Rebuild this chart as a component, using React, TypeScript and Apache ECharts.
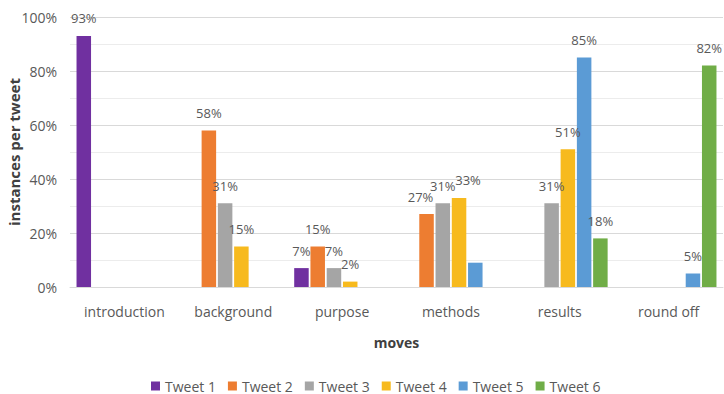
import React, { useEffect, useRef } from "react";
import * as echarts from "echarts";

const categories = ["introduction", "background", "purpose", "methods", "results", "round off"];
const seriesNames = ["Tweet 1", "Tweet 2", "Tweet 3", "Tweet 4", "Tweet 5", "Tweet 6"];
const tweet1 = [93, null, 7, null, null, null];
const tweet2 = [null, 58, 15, 27, null, null];
const tweet3 = [null, 31, 7, 31, 31, null];
const tweet4 = [null, 15, 2, 33, 51, null];
const tweet5 = [null, null, null, 9, 85, 5];
const tweet6 = [null, null, null, null, 18, 82];
const hiddenLabels: Record<string, number[]> = { "Tweet 5": [3] };
const colors = ["#7030A0", "#ED7D31", "#A5A5A5", "#F7BA1E", "#5B9BD5", "#70AD47"];
const yTicks = [0, 20, 40, 60, 80, 100];

// small label nudges (style only), keyed by series then category index
const labelNudges: Record<string, Record<number, number[]>> = {
  "Tweet 2": { 3: [-6, 0] },
  "Tweet 4": { 3: [9, 0] },
};

const FONT = "Open Sans";

export default function App() {
  const ref = useRef<HTMLDivElement>(null);
  useEffect(() => {
    if (!ref.current) return;
    const chart = echarts.init(ref.current, null, { renderer: "svg" });
    const all = [tweet1, tweet2, tweet3, tweet4, tweet5, tweet6];
    const series = all.map((vals, i) => ({
      name: seriesNames[i],
      type: "bar" as const,
      barGap: "12%",
      barCategoryGap: "12%",
      itemStyle: { color: colors[i] },
      label: {
        show: true,
        position: "top" as const,
        distance: 11,
        formatter: "{c}%",
        color: "#595959",
        fontSize: 13,
        fontFamily: FONT,
      },
      data: vals.map((v, j) => {
        const name = seriesNames[i];
        if ((hiddenLabels[name] || []).includes(j)) return { value: v, label: { show: false } };
        const nudge = labelNudges[name] && labelNudges[name][j];
        if (nudge) return { value: v, label: { offset: nudge } };
        return v;
      }),
    }));
    chart.setOption({
      animation: false,
      color: colors,
      grid: { left: 70, right: 1, top: 17, bottom: 107, outerBoundsMode: "none", containLabel: false },
      legend: {
        left: 146,
        top: 374,
        itemWidth: 9,
        itemHeight: 9,
        itemGap: 12,
        icon: "rect",
        textStyle: { color: "#595959", fontSize: 14, fontFamily: FONT },
        data: seriesNames,
      },
      xAxis: {
        type: "category",
        data: categories,
        name: "moves",
        nameLocation: "middle",
        nameGap: 48,
        nameMoveOverlap: false,
        nameTextStyle: { color: "#404040", fontSize: 14, fontWeight: "bold", fontFamily: FONT },
        axisTick: { show: false },
        axisLine: { show: true, lineStyle: { color: "#d9d9d9", width: 1 } },
        axisLabel: { color: "#595959", fontSize: 14, fontFamily: FONT, margin: 17 },
      },
      yAxis: {
        type: "value",
        min: yTicks[0],
        max: yTicks[yTicks.length - 1],
        interval: 20,
        name: "instances per tweet",
        nameLocation: "middle",
        nameGap: 49,
        nameMoveOverlap: false,
        nameTextStyle: { color: "#404040", fontSize: 15, fontWeight: "bold", fontFamily: FONT },
        axisLabel: { formatter: "{value}%", color: "#595959", fontSize: 14, fontFamily: FONT, margin: 13 },
        axisLine: { show: false },
        axisTick: { show: false },
        splitLine: { lineStyle: { color: "#d9d9d9", width: 1 } },
        minorTick: { show: false, splitNumber: 2 },
        minorSplitLine: { show: true, lineStyle: { color: "#ececec", width: 1 } },
      },
      series,
    });
    return () => chart.dispose();
  }, []);
  return <div ref={ref} style={{ width: 724, height: 394, position: "absolute", left: 0, top: 0 }} />;
}
